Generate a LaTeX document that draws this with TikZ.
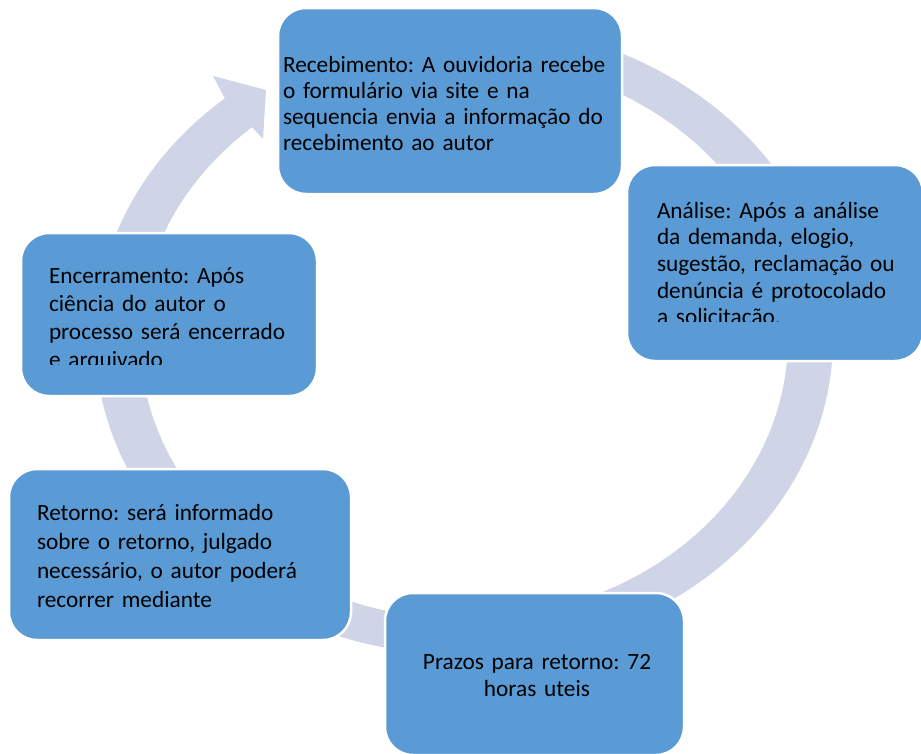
\documentclass[tikz,border=0pt]{standalone}
\usepackage{fontspec}
\setmainfont{Carlito}
\frenchspacing
\definecolor{boxblue}{RGB}{91,155,213}
\definecolor{ringcol}{RGB}{207,213,231}
\tikzset{
  stepbox/.style={rectangle, draw=white, line width=2.5pt, fill=boxblue, rounded corners=28pt, inner sep=0pt},
  txt/.style={inner sep=0pt, outer sep=0pt, align=left, text=black},
}
\begin{document}
\begin{tikzpicture}[x=1pt, y=-1pt]
\useasboundingbox (0,0) rectangle (921,753);
% continuous cycle arrow
\fill[ringcol]
  plot[domain=100:-229.6, samples=160] ({464+369*cos(\x)},{339-316*sin(\x)})
  -- (213,76) -- (266,90) -- (263,139) -- (250,125)
  -- plot[domain=-229.2:100, samples=160] ({464+324*cos(\x)},{339-280*sin(\x)})
  -- cycle;
% boxes
\node[stepbox, minimum width=344pt, minimum height=186pt] (rec) at (450,101) {};
\node[stepbox, minimum width=296pt, minimum height=196pt] (ana) at (775,263) {};
\node[stepbox, minimum width=299pt, minimum height=162pt] (pra) at (534.5,674) {};
\node[stepbox, minimum width=342pt, minimum height=171pt] (ret) at (180,554.5) {};
\node[stepbox, minimum width=296pt, minimum height=163pt] (enc) at (169,314.5) {};
% texts
\node[txt, anchor=base west, text width=340pt, font=\fontsize{23.3}{26.3}\selectfont] (trec) at (283,72)
  {Recebimento: A ouvidoria recebe\\o formulário via site e na\\sequencia envia a informação do\\recebimento ao autor};
\begin{scope}
\clip (620,160) rectangle (921,321.5);
\node[txt, anchor=base west, text width=260pt, font=\fontsize{23.3}{26.7}\selectfont] (tana) at (657,218)
  {Análise: Após a análise\\da demanda, elogio,\\sugestão, reclamação ou\\denúncia é protocolado\\a solicitação.};
\end{scope}
\begin{scope}
\clip (15,225) rectangle (320,364);
\node[txt, anchor=base west, text width=270pt, font=\fontsize{23.3}{28.2}\selectfont] (tenc) at (49,283)
  {Encerramento: Após\\ciência do autor o\\processo será encerrado\\e arquivado};
\end{scope}
\node[txt, anchor=base west, text width=300pt, font=\fontsize{23.3}{29.3}\selectfont] (tret) at (37,520)
  {Retorno: será informado\\sobre o retorno, julgado\\necessário, o autor poderá\\recorrer mediante};
\node[txt, anchor=base, align=center, text width=290pt, font=\fontsize{23.3}{27}\selectfont] (tpra) at (537,669)
  {Prazos para retorno: 72\\horas uteis};
\end{tikzpicture}
\end{document}
